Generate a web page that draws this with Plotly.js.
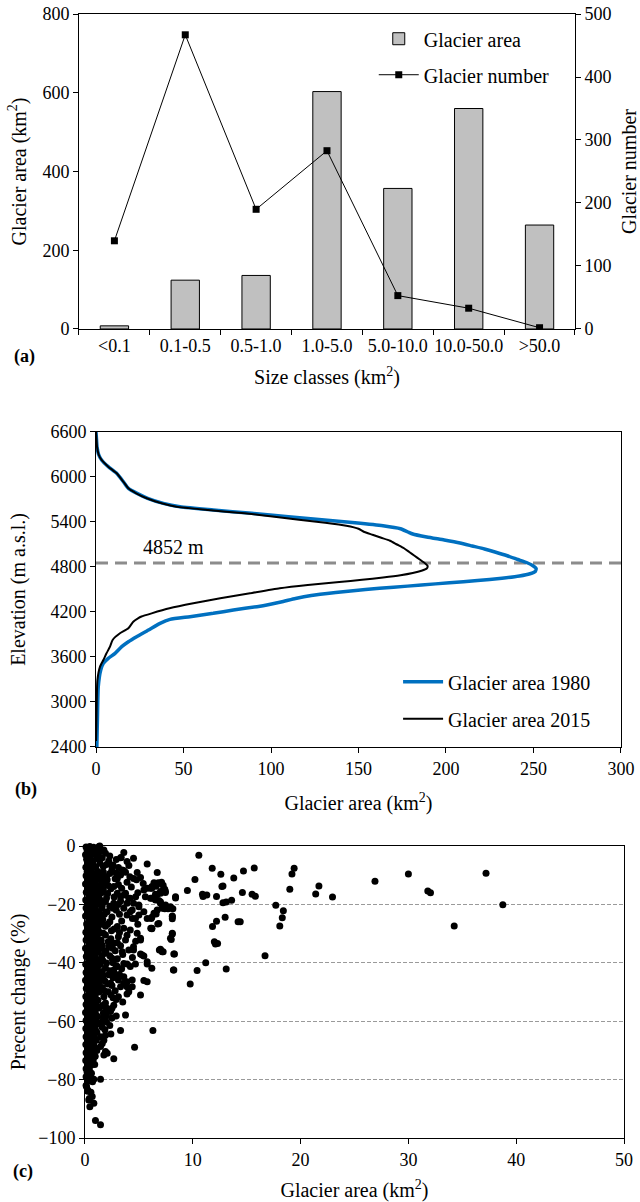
<!DOCTYPE html>
<html>
<head>
<meta charset="utf-8">
<script src="https://cdn.plot.ly/plotly-3.0.1.min.js"></script>
<style>html,body{margin:0;padding:0;background:#fff;}#chart{width:640px;height:1202px;}</style>
</head>
<body>
<div id="chart"></div>
<script>
// ---------- Panel (a) data ----------
const sizeClasses = ['<0.1','0.1-0.5','0.5-1.0','1.0-5.0','5.0-10.0','10.0-50.0','>50.0'];
const glacierArea = [8, 124, 136, 603, 357, 560, 264];
const glacierNumber = [140, 467, 190, 283, 53, 33, 2];

// ---------- Panel (b) data ----------
const elev1980 = [6600,6500,6400,6300,6227,6138,6049,5938,5849,5782,5716,5649,5604,5560,5516,5471,5430,5390,5350,5310,5270,5240,5200,5160,5120,5080,5040,5000,4950,4900,4860,4820,4780,4740,4710,4680,4650,4620,4590,4560,4530,4500,4460,4420,4380,4340,4300,4271,4227,4182,4138,4102,4049,3960,3871,3804,3738,3649,3582,3516,3427,3204,2760,2427,2400];
const area1980 = [0,0.3,0.6,1.5,3.2,7,11.8,15.6,18.5,23.5,29.5,38.5,48,67,89,110,129,148,164,174,178,181,189,199,208,215,222,228,235,241,246,249.5,251.5,251,248,242,232,218,202,186,170,154,137,123,114,107,99,92,78.5,67,53.7,42.3,36.6,30,23.2,18.5,14.7,10.9,7,4.2,2.7,1.3,0.8,0.5,0.5];
const elev2015 = [6600,6500,6400,6300,6227,6138,6049,5938,5849,5782,5716,5649,5604,5560,5516,5471,5430,5390,5350,5310,5270,5230,5190,5150,5100,5050,5000,4950,4900,4850,4813,4780,4750,4720,4690,4660,4630,4600,4560,4516,4449,4382,4316,4249,4182,4140,4116,4071,3982,3916,3827,3738,3649,3560,3471,3293,2987,2700,2480];
const area2015 = [0,0.3,0.6,1.5,3.2,7,11.8,15.6,18.5,23,29,37.5,46,64,85,102,116,131,143,150,153,158,163,168,172,176,179,182,185,188,189.5,189,186,181,174,164,152,139,121,105,88,71,55.6,42,31.8,26,24,21.3,18.5,13.7,9.5,8,6,4.2,2.3,0.8,0.4,0.2,0];
const meanElevation = 4852;

// ---------- Panel (c) data: [glacier area km2, percent change] ----------
const smallGlaciers = [
[0.1,-0.3],[0.45,-0.2],[0.8,-0.4],[1.3,-0.2],[0.2,-1.5],[0.6,-1.7],[1.05,-1.4],[1.5,-1.6],
[0.05,-3.0],[0.35,-3.2],[0.9,-2.9],[1.25,-3.1],[0.15,-4.5],[0.55,-4.7],[1.1,-4.4],
[0.3,-6.0],[0.75,-6.2],[1.4,-5.9],[0.08,-7.3],[0.5,-7.5],[1.0,-7.2],
[0.2,-8.8],[0.65,-9.0],[1.2,-8.7],[1.7,-8.9],[0.1,-10.2],[0.4,-10.4],[0.85,-10.1],[1.35,-10.3],
[0.25,-11.6],[0.7,-11.8],[1.15,-11.5],[0.05,-13.0],[0.5,-13.2],[0.95,-12.9],[1.5,-13.1],
[0.3,-14.4],[0.8,-14.6],[1.25,-14.3],[0.12,-15.8],[0.6,-16.0],[1.05,-15.7],[1.6,-15.9],
[0.35,-17.1],[0.85,-17.3],[1.3,-17.0],[0.07,-18.5],[0.55,-18.7],[1.0,-18.4],[1.45,-18.6],
[0.25,-19.9],[0.75,-20.1],[1.2,-19.8],[0.1,-21.2],[0.5,-21.4],[0.95,-21.1],[1.55,-21.3],
[0.3,-22.6],[0.8,-22.8],[1.3,-22.5],[0.05,-24.0],[0.6,-24.2],[1.05,-23.9],[1.45,-24.1],
[0.35,-25.4],[0.85,-25.6],[1.25,-25.3],[0.15,-26.7],[0.55,-26.9],[1.0,-26.6],[1.6,-26.8],
[0.3,-28.1],[0.75,-28.3],[1.2,-28.0],[0.08,-29.5],[0.5,-29.7],[0.95,-29.4],[1.4,-29.6],
[0.25,-30.9],[0.7,-31.1],[1.15,-30.8],[0.1,-32.2],[0.55,-32.4],[1.0,-32.1],[1.5,-32.3],
[0.35,-33.6],[0.8,-33.8],[1.3,-33.5],[0.05,-35.0],[0.6,-35.2],[1.05,-34.9],[1.45,-35.1],
[0.3,-36.4],[0.75,-36.6],[1.2,-36.3],[0.12,-37.8],[0.5,-38.0],[0.95,-37.7],[1.55,-37.9],
[0.35,-39.1],[0.85,-39.3],[1.3,-39.0],[0.07,-40.5],[0.55,-40.7],[1.0,-40.4],[1.4,-40.6],
[0.25,-41.9],[0.7,-42.1],[1.15,-41.8],[0.1,-43.3],[0.5,-43.5],[0.9,-43.2],[1.35,-43.4],
[0.3,-44.6],[0.75,-44.8],[1.2,-44.5],[0.05,-46.0],[0.55,-46.2],[1.0,-45.9],[1.5,-46.1],
[0.3,-47.4],[0.8,-47.6],[1.25,-47.3],[0.12,-48.8],[0.6,-49.0],[1.05,-48.7],
[0.35,-50.1],[0.85,-50.3],[1.3,-50.0],[0.08,-51.5],[0.5,-51.7],[0.95,-51.4],
[0.3,-52.9],[0.75,-53.1],[1.2,-52.8],[0.1,-54.3],[0.55,-54.5],[1.0,-54.2],
[0.3,-55.6],[0.8,-55.8],[1.3,-55.5],[0.05,-57.0],[0.5,-57.2],[0.95,-56.9],
[0.25,-58.4],[0.7,-58.6],[1.15,-58.3],[0.1,-59.8],[0.55,-60.0],[1.0,-59.7],
[0.3,-61.1],[0.75,-61.3],[1.3,-61.0],[0.08,-62.5],[0.5,-62.7],[0.9,-62.4],
[0.3,-63.9],[0.7,-64.1],[1.1,-63.8],[0.1,-65.3],[0.5,-65.5],[0.85,-65.2],
[0.3,-66.6],[0.65,-66.8],[1.05,-66.5],[0.08,-68.0],[0.45,-68.2],[0.8,-67.9],
[0.25,-69.4],[0.6,-69.6],[1.0,-69.3],[0.1,-70.8],[0.45,-71.0],[0.8,-70.7],
[0.3,-72.1],[0.6,-72.3],[0.95,-72.0],[0.07,-73.5],[0.4,-73.7],[0.75,-73.4],
[0.25,-74.9],[0.55,-75.1],[0.9,-74.8],[0.1,-76.3],[0.4,-76.5],[0.2,-77.6],[0.6,-77.8],
[0.1,-79.0],[0.5,-79.2],[0.3,-80.5],[0.7,-80.7],[0.1,-82.0],[0.25,-84.0],[0.55,-84.3],
[0.4,-86.5],[0.45,-89.3],[1.44,-79.9],[0.82,-79.9],[0.26,-83.6],[0.67,-85.8],[0.82,-88.1],
[0.97,-94.0],[1.44,-95.5],[0.35,-87.0],[0.14,-82.4],[0.97,-63.0],[1.44,-65.3],[1.75,-66.5],
[1.1,-70.0],[0.82,-72.3],[1.9,-70.4],[1.44,-68.7]
];
const mediumGlaciers = [
[1.37,0],[1.75,-1.4],[2.3,-3.4],[3.36,-3.9],[2.6,-6.5],[3.6,-8.4],[3.3,-9.9],[4.16,-10.5],
[4.84,-9.1],[5.77,-6.2],[4.78,-11.6],[5.4,-12.8],[5.46,-15.1],[6.08,-14.5],[6.54,-16.5],
[2.06,-11.6],[2.67,-13.9],[3.0,-16.2],[3.6,-16.8],[4.06,-17.9],[4.5,-19.6],[5.0,-20.8],
[4.38,-21.9],[3.9,-23.6],[4.68,-24.8],[5.46,-22.5],[6.14,-24.8],[6.2,-28.2],[5.15,-32.2],
[4.5,-35.6],[5.3,-37.3],[5.77,-39.6],[6.9,-35.6],[3.6,-40.2],[4.2,-41.3],[3.0,-41.3],
[2.67,-43.6],[3.1,-45.9],[3.6,-47.0],[4.38,-45.9],[3.9,-48.2],[3.3,-48.2],[2.37,-47.0],
[5.15,-51.0],[5.77,-46.5],[3.9,-50.7],[2.67,-54.5],[2.5,-55.6],[2.0,-58.2],[3.76,-57.9],
[3.3,-63.2],[6.3,-63.2],[4.6,-68.9],[2.67,-72.9],[1.6,-67.6],[1.75,-71.6],[2.06,-71.0],
[3.3,-4.0],[4.07,-6.7],[6.7,-9.1],[2.5,-6.7],[3.45,-8.2],[3.76,-9.0],[4.5,-11.1],[5.15,-10.8],
[3.0,-11.1],[5.77,-14.5],[6.2,-13.9],[7.0,-12.8],[7.3,-14.8],[7.46,-15.6],[7.0,-15.6],
[8.4,-17.4],[3.3,-17.4],[3.76,-16.2],[4.2,-17.9],[4.7,-17.4],[5.6,-17.4],[6.08,-17.9],
[6.54,-18.5],[7.0,-19.1],[7.47,-20.2],[7.93,-20.8],[7.16,-21.3],[2.67,-19.6],[3.6,-21.3],
[4.2,-22.5],[4.99,-20.2],[6.4,-23.0],[6.7,-21.9],[8.1,-24.2],[4.4,-24.8],[5.0,-23.6],
[5.77,-24.8],[6.1,-28.2],[6.85,-26.5],[3.0,-27.6],[3.6,-28.2],[4.2,-28.8],[4.84,-29.9],
[3.1,-31.1],[3.76,-32.2],[2.67,-33.3],[4.5,-34.5],[4.06,-35.6],[3.45,-36.2],[5.15,-31.6],
[8.1,-29.9],[7.93,-31.6],[7.0,-35.6],[7.16,-36.2],[5.15,-37.0],[5.46,-37.7],[5.77,-40.4],
[4.68,-40.4],[3.9,-40.4],[8.24,-37.0],[8.24,-42.5],[2.67,-42.5],[3.0,-44.2],[3.6,-44.8],
[3.9,-46.5],[4.38,-48.2],[3.1,-51.6],[4.06,-49.9],[5.46,-46.1],[6.2,-41.9],[2.37,-56.7],
[1.75,-55.0],[6.4,-12.6],[6.8,-12.6],[7.1,-12.4],[7.25,-13.4],[6.6,-13.8],[6.2,-14.5],
[7.4,-14.8],[7.45,-15.9],[6.7,-16.5],[7.0,-16.2],[6.5,-17.9],[6.2,-17.9],[6.85,-18.7],
[7.0,-19.6],[7.2,-20.8],[7.4,-21.5],[7.7,-21.5],[7.9,-21.2],[8.15,-21.5],[8.4,-17.8],
[6.2,-24.4],[6.6,-23.3],[8.1,-24.0],[8.1,-24.9],[6.2,-28.3],[6.75,-26.7],[8.1,-30.1],
[8.0,-32.0],[7.0,-35.4],[7.25,-36.2],[8.3,-37.0],[8.2,-42.5],
[1.9,-2.5],[2.2,-5.1],[1.7,-7.0],[2.5,-8.2],[2.0,-10.5],[2.8,-11.2],[1.8,-12.8],[2.4,-14.6],
[3.1,-13.2],[2.1,-16.3],[2.7,-17.5],[1.9,-19.0],[3.3,-18.8],[2.3,-20.6],[2.9,-22.0],[1.8,-23.4],
[2.5,-24.3],[3.4,-25.7],[2.1,-26.8],[2.7,-28.4],[3.2,-29.6],[1.9,-30.5],[2.4,-31.8],[3.0,-33.1],
[2.2,-34.6],[2.8,-35.9],[1.8,-36.8],[3.5,-37.2],[2.5,-38.4],[2.0,-40.1],[2.9,-41.0],[2.3,-42.7],
[1.7,-44.3],[2.6,-45.1],[3.2,-44.0],[2.1,-47.3],[1.8,-49.6],[2.4,-50.9],[2.9,-52.6],[1.9,-53.8],
[2.2,-56.4],[1.7,-58.6],[2.0,-60.3],[1.6,-62.1],[2.3,-61.5],[1.9,-64.8],
[1.6,-4.0],[2.0,-6.3],[1.55,-9.6],[2.3,-9.4],[1.65,-11.2],[2.15,-13.5],[1.7,-14.9],[2.0,-17.8],
[1.6,-20.5],[2.6,-21.3],[2.05,-22.5],[1.65,-25.2],[2.3,-25.9],[1.9,-27.5],[2.45,-29.0],[1.7,-29.9],
[2.15,-32.8],[1.6,-34.0],[2.55,-35.0],[1.95,-36.0],[2.3,-37.6],[1.65,-39.2],[2.6,-40.0],[1.9,-41.8],
[1.6,-43.0],[2.2,-44.1],[1.85,-46.2],[2.5,-47.8],[1.6,-48.5],[2.15,-49.9],[1.75,-51.6],[2.6,-52.0],
[1.6,-54.6],[2.0,-55.5],[1.7,-57.2],[2.5,-58.9],[1.6,-60.0],[1.85,-62.9],[3.6,-2.2],[2.9,-4.6],
[3.9,-5.3],[4.5,-4.2],[3.1,-7.4],[2.9,-9.3],[3.9,-12.4],[3.4,-14.5],[4.3,-14.0],[4.9,-16.0],
[3.1,-20.0],[3.9,-19.6],[3.2,-23.4],[4.9,-26.8],[3.9,-30.6],[3.3,-34.2],[4.7,-32.6],[3.0,-38.6],
[4.4,-38.2],[3.4,-42.0],[2.8,-49.6],[3.5,-53.4],[2.9,-58.2],[2.4,-64.4]
];
const largeGlaciers = [
[10.56,-3.2],[11.8,-7.6],[12.6,-9.7],[13.8,-11.0],[14.7,-8.6],[15.7,-7.5],[10.2,-11.5],[9.5,-15.2],
[10.9,-16.5],[11.3,-16.8],[10.95,-17.3],[12.2,-17.3],[12.7,-13.9],[12.8,-13.7],[13.6,-18.6],
[13.1,-19.2],[12.8,-19.4],[14.6,-15.9],[15.5,-16.5],[15.8,-17.2],[17.7,-20.3],[18.07,-27.4],
[13.0,-24.4],[11.83,-27.6],[12.2,-25.8],[14.2,-25.9],[14.4,-25.9],[12.0,-32.8],[12.1,-33.6],
[12.3,-33.4],[16.7,-37.6],[11.2,-40.0],[13.1,-42.1],[10.4,-42.6],[9.76,-47.3],[19.4,-7.6],
[19.2,-9.6],[19.0,-14.8],[18.4,-22.2],[18.3,-24.6],[21.4,-16.4],[21.7,-13.7],[22.96,-17.5],
[26.9,-12.1],[30.0,-9.6],[31.8,-15.4],[32.05,-16.0],[34.25,-27.4],[37.2,-9.3],[38.76,-20.1]
];

// ---------- build ----------
const allGlaciers = smallGlaciers.concat(mediumGlaciers, largeGlaciers);
const scatterX = allGlaciers.map(p => p[0]);
const scatterY = allGlaciers.map(p => p[1]);

const FONT = 'Liberation Serif';
const axisBase = {
  showline: true, linecolor: '#000', linewidth: 1,
  ticks: 'outside', ticklen: 5, tickcolor: '#000', tickwidth: 1,
  showgrid: false, zeroline: false, automargin: false, tickangle: 0,
  tickfont: {family: FONT, size: 18, color: '#000'}
};
const titleFont = {family: FONT, size: 20, color: '#000'};

const traces = [
  {type: 'bar', x: sizeClasses, y: glacierArea, name: 'Glacier area', xaxis: 'x', yaxis: 'y',
   width: 0.4, marker: {color: '#c0c0c0', line: {color: '#000', width: 1}},
   legend: 'legend', legendgroup: 'a1'},
  {type: 'scatter', mode: 'lines+markers', x: sizeClasses, y: glacierNumber, name: 'Glacier number',
   xaxis: 'x', yaxis: 'y2', line: {color: '#000', width: 1},
   marker: {symbol: 'square', size: 7, color: '#000'}, legend: 'legend', legendgroup: 'a2'},
  {type: 'scatter', mode: 'lines', x: area1980, y: elev1980, name: 'Glacier area 1980',
   xaxis: 'x2', yaxis: 'y3', line: {color: '#0070c0', width: 3.5, shape: 'spline', smoothing: 0.5},
   legend: 'legend2', legendgroup: 'b1', cliponaxis: false},
  {type: 'scatter', mode: 'lines', x: area2015, y: elev2015, name: 'Glacier area 2015',
   xaxis: 'x2', yaxis: 'y3', line: {color: '#000', width: 2, shape: 'spline', smoothing: 0.5},
   legend: 'legend2', legendgroup: 'b2', cliponaxis: false},
  {type: 'scatter', mode: 'markers', x: scatterX, y: scatterY, name: 'Glaciers',
   xaxis: 'x3', yaxis: 'y4', marker: {color: '#000', size: 7}, showlegend: false, cliponaxis: false}
];

const layout = {
  width: 640, height: 1202,
  margin: {l: 0, r: 0, t: 0, b: 0},
  paper_bgcolor: '#fff', plot_bgcolor: '#fff',
  font: {family: FONT, size: 18, color: '#000'},
  showlegend: true,
  // Panel (a)
  xaxis: Object.assign({}, axisBase, {domain: [0.1234, 0.8984], anchor: 'y', type: 'category',
    tickson: 'boundaries', mirror: true,
    title: {text: 'Size classes (km<sup>2</sup>)', font: titleFont, standoff: 15}}),
  yaxis: Object.assign({}, axisBase, {domain: [0.7263, 0.98835], anchor: 'x', range: [0, 800], dtick: 200,
    title: {text: 'Glacier area (km<sup>2</sup>)', font: titleFont, standoff: 10}}),
  yaxis2: Object.assign({}, axisBase, {overlaying: 'y', side: 'right', anchor: 'x', range: [0, 500], dtick: 100,
    title: {text: 'Glacier number', font: titleFont, standoff: 16}}),
  // Panel (b)
  xaxis2: Object.assign({}, axisBase, {domain: [0.15, 0.9703], anchor: 'y3', range: [0, 300], dtick: 50, mirror: true,
    title: {text: 'Glacier area (km<sup>2</sup>)', font: titleFont, standoff: 18}}),
  yaxis3: Object.assign({}, axisBase, {domain: [0.37854, 0.64060], anchor: 'x2', range: [2400, 6600], dtick: 600, mirror: true,
    title: {text: 'Elevation (m a.s.l.)', font: titleFont, standoff: 19}}),
  // Panel (c)
  xaxis3: Object.assign({}, axisBase, {domain: [0.1328, 0.975], anchor: 'y4', range: [0, 50], dtick: 10, mirror: true,
    title: {text: 'Glacier area (km<sup>2</sup>)', font: titleFont, standoff: 14}}),
  yaxis4: Object.assign({}, axisBase, {domain: [0.05324, 0.29617], anchor: 'x3', range: [-100, 0], dtick: 20, mirror: true,
    showgrid: true, gridcolor: '#9a9a9a', gridwidth: 1, griddash: '4px,2px',
    title: {text: 'Precent change (%)', font: titleFont, standoff: 7}}),
  legend: {x: 0.584, y: 0.984, xanchor: 'left', yanchor: 'top', bgcolor: 'rgba(0,0,0,0)',
    font: {family: FONT, size: 20, color: '#000'}, traceorder: 'grouped', tracegroupgap: 7, itemwidth: 40},
  legend2: {x: 0.622, y: 0.449, xanchor: 'left', yanchor: 'top', bgcolor: 'rgba(0,0,0,0)',
    font: {family: FONT, size: 20, color: '#000'}, traceorder: 'grouped', tracegroupgap: 8, itemwidth: 40},
  shapes: [
    {type: 'line', xref: 'x2', yref: 'y3', x0: 0, x1: 300, y0: meanElevation, y1: meanElevation,
     line: {color: '#8c8c8c', width: 3, dash: '12px,7px'}, layer: 'below'}
  ],
  annotations: [
    {xref: 'x2', yref: 'y3', x: 44, y: 5067, text: meanElevation + ' m', showarrow: false,
     font: {family: FONT, size: 20, color: '#000'}},
    {xref: 'paper', yref: 'paper', x: 0.0375, y: 0.703, xanchor: 'center', yanchor: 'middle', text: '<b>(a)</b>', showarrow: false,
     font: {family: FONT, size: 18, color: '#000'}},
    {xref: 'paper', yref: 'paper', x: 0.04, y: 0.3428, xanchor: 'center', yanchor: 'middle', text: '<b>(b)</b>', showarrow: false,
     font: {family: FONT, size: 18, color: '#000'}},
    {xref: 'paper', yref: 'paper', x: 0.036, y: 0.025, xanchor: 'center', yanchor: 'middle', text: '<b>(c)</b>', showarrow: false,
     font: {family: FONT, size: 18, color: '#000'}}
  ]
};

Plotly.newPlot('chart', traces, layout, {displayModeBar: false, staticPlot: true});
</script>
</body>
</html>
